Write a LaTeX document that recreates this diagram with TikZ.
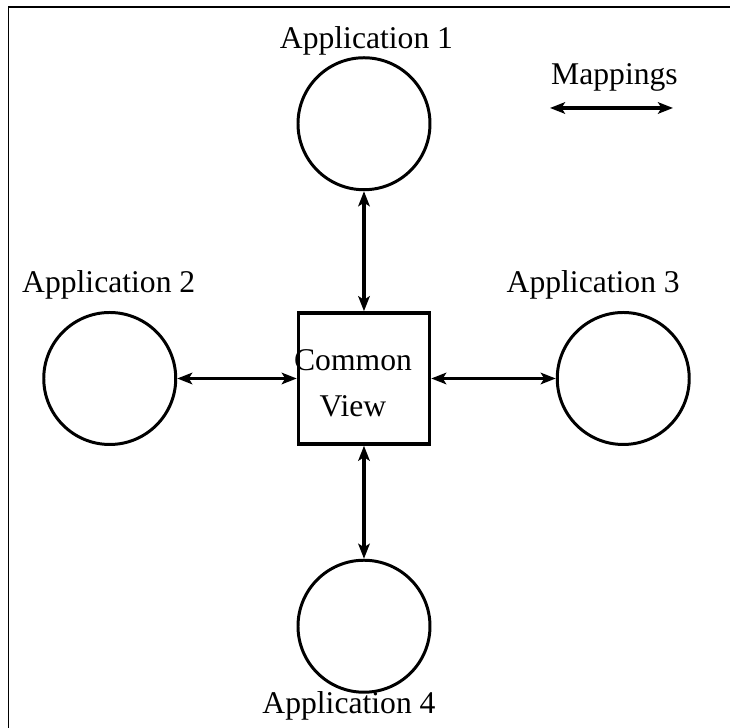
\documentclass[tikz,border=0pt]{standalone}
\usepackage{fontspec}
\setmainfont{Liberation Serif}
\usetikzlibrary{arrows.meta,positioning}

\begin{document}
\begin{tikzpicture}[node distance=2.4cm,
  app/.style={draw,circle,line width=1.7pt,minimum size=2.64cm,inner sep=0pt},
  viewbox/.style={draw,rectangle,line width=2pt,minimum size=2.62cm,inner sep=0pt},
  lbl/.style={inner sep=0pt,font=\fontsize{18}{26}\selectfont},
  map/.style={{Stealth[length=3mm,width=2.3mm,inset=0.7mm]}-{Stealth[length=3mm,width=2.3mm,inset=0.7mm]},line width=2pt}]
\useasboundingbox (-7.28,-6.99) rectangle (7.32,7.57);
\draw[line width=0.9pt] (-7.11,-7.2) -- (-7.11,7.424) -- (7.5,7.424);
% common view in the middle, one application on each side
\node[viewbox] (view) {};
\node[lbl,align=center] (viewtxt) at ([xshift=-0.22cm,yshift=-0.1cm]view.center) {Common\\View};
\node[app,above=2.4cm of view] (app1) {};
\node[app,left=2.39cm of view] (app2) {};
\node[app,right=2.49cm of view] (app3) {};
\node[app,below=2.26cm of view] (app4) {};
\node[lbl,above=0.02cm of app1,xshift=0.05cm] (lbl1) {Application 1};
\node[lbl,above=0.22cm of app2,xshift=-0.02cm] (lbl2) {Application 2};
\node[lbl,above=0.22cm of app3,xshift=-0.6cm] (lbl3) {Application 3};
\node[lbl,below=-0.06cm of app4,xshift=-0.3cm] (lbl4) {Application 4};
\draw[map] (app1) -- (view);
\draw[map] (app2) -- (view);
\draw[map] (view) -- (app3);
\draw[map] (view) -- (app4);
% legend
\node[lbl,anchor=base] (maplbl) at (5.01,5.87) {Mappings};
\coordinate (mapl) at (3.72,5.41);
\coordinate (mapr) at (6.18,5.41);
\draw[map] (mapl) -- (mapr);
\end{tikzpicture}
\end{document}
